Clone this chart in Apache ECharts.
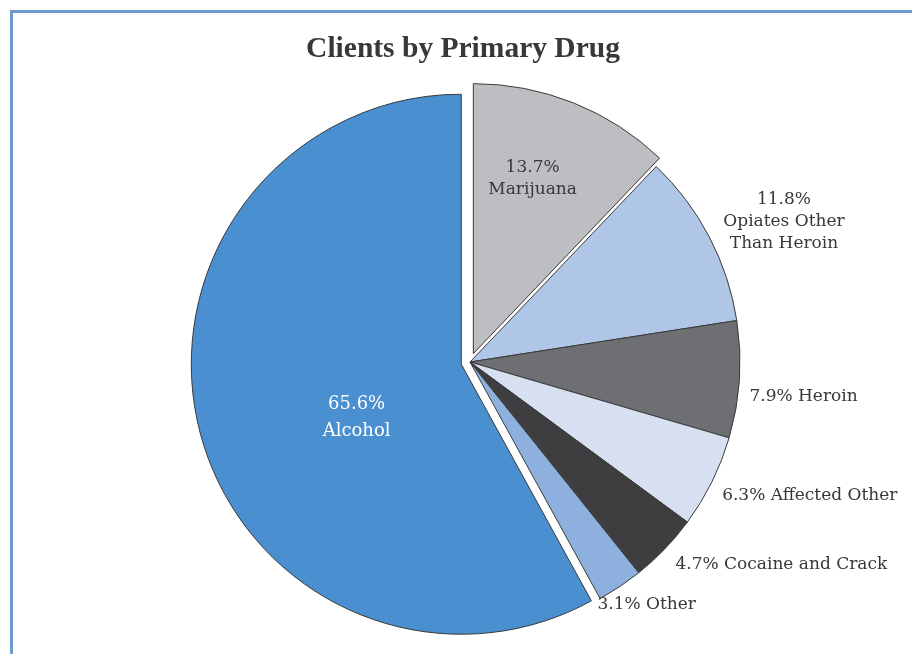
<!DOCTYPE html>
<html>
<head>
<meta charset="utf-8">
<script src="https://cdn.jsdelivr.net/npm/echarts@6/dist/echarts.min.js"></script>
<style>
  html, body { margin: 0; padding: 0; background: #ffffff; }
  #chart { width: 912px; height: 654px; }
</style>
</head>
<body>
<div id="chart"></div>
<script>
// Clients by primary drug, share of clients (%)
const drugNames = [
  'Marijuana',
  'Opiates Other Than Heroin',
  'Heroin',
  'Affected Other',
  'Cocaine and Crack',
  'Other',
  'Alcohol'
];
const drugShares = [13.7, 11.8, 7.9, 6.3, 4.7, 3.1, 65.6];
const labelLines = [
  ['13.7%', 'Marijuana'],
  ['11.8%', 'Opiates Other', 'Than Heroin'],
  ['7.9% Heroin'],
  ['6.3% Affected Other'],
  ['4.7% Cocaine and Crack'],
  ['3.1% Other'],
  ['65.6%', 'Alcohol']
];
const explodedSlices = ['Marijuana', 'Alcohol'];

const sliceColors = ['#bdbec2', '#b0c6e6', '#6e6f73', '#d6e0f1', '#3e3e40', '#8db0de', '#4a8fcf'];
const insideSlices = ['Marijuana', 'Alcohol'];
// nudges for label placement, in px
const labelNudge = [[8, -47], [2, -12], [-3, 16], [-2, 10], [0, 10], [-32, 11], [29, 19]];

const serif = '"DejaVu Serif", "Liberation Serif", serif';

const chart = echarts.init(document.getElementById('chart'));

const data = drugNames.map((name, i) => {
  const inside = insideSlices.includes(name);
  const isAlcohol = name === 'Alcohol';
  return {
    name: name,
    value: drugShares[i],
    selected: explodedSlices.includes(name),
    itemStyle: { color: sliceColors[i] },
    label: {
      position: inside ? 'inside' : 'outside',
      color: isAlcohol ? '#ffffff' : '#383838',
      formatter: () => labelLines[i].map(t => '{c|' + t + '}').join('\n'),
      rich: {
        c: {
          align: 'center',
          fontFamily: serif,
          fontSize: isAlcohol ? 18 : 17,
          lineHeight: isAlcohol ? 27 : 22,
          color: isAlcohol ? '#ffffff' : '#383838'
        }
      }
    }
  };
});

chart.setOption({
  animation: false,
  title: {
    text: 'Clients by Primary Drug',
    left: 458,
    textAlign: 'center',
    top: 29,
    textStyle: { fontFamily: '"Liberation Serif", serif', fontSize: 29.5, fontWeight: 'bold', color: '#383838' }
  },
  graphic: [
    { type: 'rect', shape: { x: 10, y: 10, width: 902, height: 3 }, style: { fill: '#7099cc' } },
    { type: 'rect', shape: { x: 10, y: 10, width: 3, height: 644 }, style: { fill: '#7099cc' } }
  ],
  series: [{
    type: 'pie',
    center: [470, 362],
    radius: [0, 270],
    startAngle: 90,
    clockwise: true,
    selectedMode: 'multiple',
    selectedOffset: 9,
    select: { itemStyle: { borderColor: '#3a3a3a', borderWidth: 1 } },
    emphasis: { disabled: true },
    itemStyle: { borderColor: '#3a3a3a', borderWidth: 1 },
    label: { fontFamily: serif, fontSize: 17 },
    labelLine: { show: false, length: 8, length2: 0 },
    labelLayout: (p) => ({ dx: labelNudge[p.dataIndex][0], dy: labelNudge[p.dataIndex][1] }),
    data: data
  }]
});
</script>
</body>
</html>
